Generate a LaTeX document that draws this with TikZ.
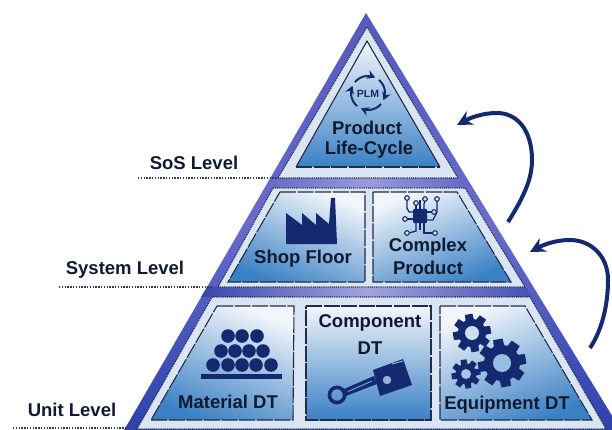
\documentclass[tikz,border=0pt]{standalone}
\usepackage{fontspec}
\setmainfont{Liberation Sans}
\usetikzlibrary{arrows.meta}
\definecolor{navy}{HTML}{14296F}
\definecolor{ink}{HTML}{101A30}
\definecolor{edge}{HTML}{222C48}
\definecolor{lightreg}{HTML}{D9E5F2}
\definecolor{panelblue}{HTML}{3A80C4}
\definecolor{paneltop}{HTML}{F2F6FB}
\definecolor{outertop}{HTML}{5558BE}
\definecolor{outermid}{HTML}{696CCD}
\definecolor{outerbot}{HTML}{2D41AC}
\definecolor{bandaside}{HTML}{6468C8}
\definecolor{bandamid}{HTML}{9B9BDC}
\definecolor{bandbleft}{HTML}{3846AD}
\definecolor{bandbright}{HTML}{4650B2}
\definecolor{bandbmid}{HTML}{A3A3DE}
\definecolor{holea}{HTML}{96BEE1}
\definecolor{holeb}{HTML}{CDDEF0}
\definecolor{holec}{HTML}{A5C6E6}
\definecolor{padfill}{HTML}{D8E4F2}
\definecolor{highlight}{HTML}{8FB4DC}
\tikzset{
  label/.style={font=\bfseries\fontsize{18.5}{20}\selectfont,text=ink,inner sep=0pt},
  levellabel/.style={font=\bfseries\fontsize{18.5}{20}\selectfont,text=ink,inner sep=0pt},
  leveldots/.style={draw=ink!85,line width=1.3pt,dash pattern=on 1.4pt off 1.4pt},
  region/.style={fill=lightreg,draw=edge,line width=1.2pt,dash pattern=on 1pt off 0.9pt},
  panel/.style={draw=edge,line width=1.1pt,dash pattern=on 16pt off 1.6pt},
  bigarrow/.style={draw=navy,line width=4pt,-{Stealth[length=15pt,width=15pt]}},
  ring/.style={draw=navy,line width=2pt,-{Stealth[length=8pt,width=9pt]}},
  trace/.style={draw=navy,line width=1.3pt},
  pad/.style={draw=navy,line width=1.1pt,fill=padfill},
}
\newcommand{\gearicon}[6]{% cx cy outer body hole holecolor
  \foreach \a in {0,45,...,315}{
    \fill[navy,rotate around={\a+10:(#1,#2)}] (#1-#3*0.27,#2) -- (#1-#3*0.2,#2-#3) -- (#1+#3*0.2,#2-#3) -- (#1+#3*0.27,#2) -- cycle;
  }
  \fill[navy] (#1,#2) circle[radius=#4];
  \fill[#6] (#1,#2) circle[radius=#5];
}
\begin{document}
\begin{tikzpicture}[x=1pt,y=-1pt]
\useasboundingbox (0,0) rectangle (612,430);
\clip (0,0) rectangle (612,430);
% outer pyramid
\shade[top color=outertop,bottom color=outerbot,middle color=outermid] (366,13) -- (622,432) -- (123,432) -- cycle;
% bands
\shade[left color=bandaside,right color=bandaside,middle color=bandamid] (272,178) -- (462,178) -- (468,188) -- (266,188) -- cycle;
\shade[left color=bandbleft,right color=bandbright,middle color=bandbmid] (207,287) -- (526,287) -- (532,297) -- (201,297) -- cycle;
% light regions
\path[region] (367,27) -- (458,178) -- (278,178) -- cycle;
\path[region] (273,188) -- (465,188) -- (525,287) -- (218,287) -- cycle;
\path[region] (212,297) -- (530,297) -- (606,429) -- (137,429) -- cycle;
% panels
\shade[top color=paneltop,bottom color=panelblue] (367,41) -- (440,167) -- (296,167) -- cycle;
\path[draw=edge,line width=1.1pt] (296,167) -- (367,41) -- (440,167);
\path[panel] (296,167) -- (440,167);
\shade[top color=paneltop,bottom color=panelblue,shading angle=-22] (280,192) -- (365,192) -- (365,282) -- (228,282) -- cycle;
\path[panel] (280,192) -- (365,192) -- (365,282) -- (228,282) -- cycle;
\shade[top color=paneltop,bottom color=panelblue,shading angle=22] (373,192) -- (457,192) -- (511,282) -- (373,282) -- cycle;
\path[panel] (373,192) -- (457,192) -- (511,282) -- (373,282) -- cycle;
\shade[top color=paneltop,bottom color=panelblue,shading angle=-22] (217,306) -- (294,306) -- (293,420) -- (151,420) -- cycle;
\path[panel] (217,306) -- (294,306) -- (293,420) -- (151,420) -- cycle;
\shade[top color=paneltop,bottom color=panelblue] (306,306) -- (431,306) -- (431,420) -- (306,420) -- cycle;
\path[panel] (306,306) -- (431,306) -- (431,420) -- (306,420) -- cycle;
\shade[top color=paneltop,bottom color=panelblue,shading angle=22] (440,306) -- (525,306) -- (592,420) -- (440,420) -- cycle;
\path[panel] (440,306) -- (525,306) -- (592,420) -- (440,420) -- cycle;
% PLM icon
\foreach \s/\e in {-140/-65,-50/25,40/115,130/205}{
  \draw[ring,domain=\s:\e,samples=10,variable=\t,smooth] plot ({368+17*cos(\t)},{93+17*sin(\t)});
}
\node[font=\bfseries\fontsize{10.5}{12}\selectfont,text=navy,inner sep=0pt] (plm) at (368,94) {PLM};
% factory
\fill[navy] (286,244) -- (286,213) -- (302,225) -- (302,213) -- (316,225) -- (316,213) -- (329,224) -- (331,198) -- (335,198) -- (337,244) -- cycle;
% chip
\fill[navy,rounded corners=1pt] (413,209) rectangle (427,223);
\draw[trace] (413,212) -- (409,212) -- (407,208) -- (407,200);
\draw[trace] (416,209) -- (416,205);
\draw[trace] (420,209) -- (420,200);
\draw[trace] (424,209) -- (424,204) -- (425,201);
\draw[trace] (427,212) -- (432,212);
\draw[trace] (427,220) -- (433,220) -- (437,212) -- (437,201);
\draw[trace] (413,219) -- (405,219);
\draw[trace] (416,223) -- (416,231) -- (409,233);
\draw[trace] (420,223) -- (420,230);
\draw[trace] (424,223) -- (424,233) -- (435,233);
\foreach \x/\y in {407/198,416/203,425/199,437/199,434/212,407/233,435/233,405/219}{
  \draw[pad] (\x,\y) circle[radius=2.3];
}
% material stack
\foreach \x/\y in {228/336,242/336,257/336,221/351,235/351,249/351,263/351,213/365,228/365,242/365,256/365,271/365}{
  \fill[navy] (\x,\y) circle[radius=6.8];
}
\fill[navy] (201,374) rectangle (282,379);
% piston
\draw[navy,line width=3.6pt] (337,395) circle[radius=7.6];
\fill[navy] (344,389) -- (374,376) -- (377,384) -- (346,396) -- cycle;
\draw[highlight,line width=.8pt] (348,391.5) -- (372,381);
\fill[navy] (373,370) -- (403,359) -- (412,385) -- (380,396) -- cycle;
\fill[highlight] (387,380) circle[radius=4.2];
\draw[highlight,line width=1pt] (392,364) -- (403,361);
% gears
\gearicon{502}{363}{24}{18}{9}{holea}
\gearicon{472}{333}{19}{14}{7}{holeb}
\gearicon{466}{374}{14.5}{10.5}{5}{holec}
% texts
\node[label] (t1a) at (367,128) {Product};
\node[label] (t1b) at (369,150) {Life-Cycle};
\node[label] (t2) at (303,259) {Shop Floor};
\node[label] (t3a) at (428,247) {Complex};
\node[label] (t3b) at (428,268) {Product};
\node[label] (t4) at (228,402) {Material DT};
\node[label] (t5a) at (370,323) {Component};
\node[label] (t5b) at (370,348) {DT};
\node[label] (t6) at (507,405) {Equipment DT};
% levels
\node[levellabel] (sos) at (194,163) {SoS Level};
\node[levellabel] (sys) at (125,270) {System Level};
\node[levellabel] (unit) at (72,410) {Unit Level};
\coordinate (d1a) at (138,178); \coordinate (d1b) at (280,178);
\coordinate (d2a) at (59,287); \coordinate (d2b) at (212,287);
\coordinate (d3a) at (13,428); \coordinate (d3b) at (130,428);
\draw[leveldots] (d1a) -- (d1b);
\draw[leveldots] (d2a) -- (d2b);
\draw[leveldots] (d3a) -- (d3b);
% curved arrows
\coordinate (a1s) at (508,222); \coordinate (a1e) at (457,125);
\coordinate (a2s) at (590,348); \coordinate (a2e) at (530,252);
\draw[bigarrow] (a1s) .. controls (525,195) and (532,178) .. (532,160) .. controls (532,130) and (517,113) .. (497,113) .. controls (482,113) and (470,118) .. (a1e);
\draw[bigarrow] (a2s) .. controls (602,330) and (608,305) .. (608,280) .. controls (608,255) and (590,240) .. (570,240) .. controls (555,240) and (543,245) .. (a2e);
\end{tikzpicture}
\end{document}
